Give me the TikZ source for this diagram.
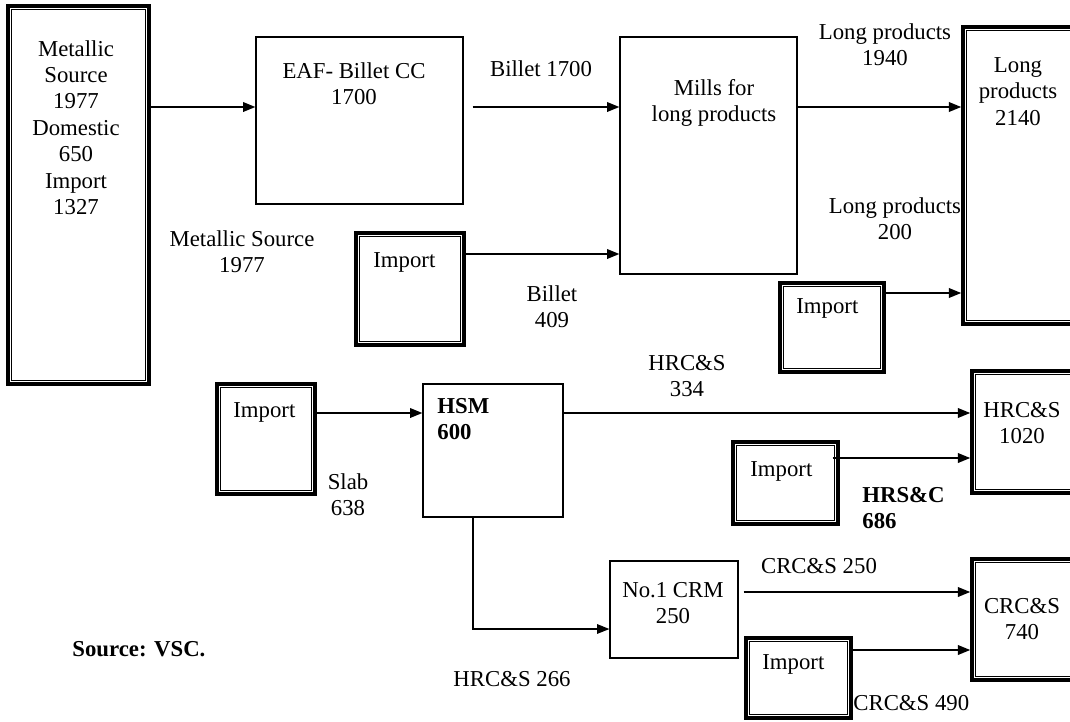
\documentclass[tikz,border=0pt]{standalone}
\usepackage{fontspec}
\setmainfont{Liberation Serif}
\usetikzlibrary{arrows.meta,fit}
\tikzset{
  dbox/.style={draw, line width=1.8pt, inner sep=0pt,
    path picture={\draw[line width=0.7pt]
      ([shift={(2pt,-2pt)}]path picture bounding box.north west) rectangle
      ([shift={(-2pt,2pt)}]path picture bounding box.south east);}},
  sbox/.style={draw, line width=0.6pt, inner sep=0pt},
  txt/.style={inner sep=0pt, align=center, anchor=north},
  ltxt/.style={inner sep=0pt, align=left, anchor=north west},
  arr/.style={line width=1pt, -{Triangle[length=6.5pt,width=5pt]}},
  conn/.style={line width=0.7pt},
}
\begin{document}
\begin{tikzpicture}[x=0.527pt, y=-0.527pt, font=\fontsize{12}{13.9}\selectfont]
\useasboundingbox (0,0) rectangle (1070,722);
\fill[white] (0,0) rectangle (1070,722);
\clip (0,0) rectangle (1070,722);

% boxes
\node[dbox, fit={(8,6) (149,384)}] (ms) {};
\node[sbox, fit={(256,37) (463,204)}] (eaf) {};
\node[sbox, fit={(620,37) (797,274)}] (mills) {};
\node[dbox, fit={(963,27) (1090,324)}] (lp) {};
\node[dbox, fit={(356,233) (464,345)}] (impB) {};
\node[dbox, fit={(780,283) (884,372)}] (impL) {};
\node[dbox, fit={(217,384) (315,494)}] (impS) {};
\node[sbox, fit={(423,384) (563,517)}] (hsm) {};
\node[dbox, fit={(972,371) (1090,493)}] (hrc) {};
\node[dbox, fit={(733,442) (838,524)}] (impH) {};
\node[sbox, fit={(610,561) (738,658)}] (crm) {};
\node[dbox, fit={(972,559) (1090,680)}] (crc) {};
\node[dbox, fit={(746,638) (851,718)}] (impC) {};

% box texts
\node[txt] (tms) at (76,40) {Metallic\\Source\\1977\\Domestic\\650\\Import\\1327};
\node[txt] (teaf) at (354,62) {EAF- Billet CC\\1700};
\node[txt] (tmills) at (714,79) {Mills for\\long products};
\node[txt] (tlp) at (1018,57) {Long\\products\\2140};
\node[ltxt] (timpB) at (373,252) {Import};
\node[ltxt] (timpL) at (796,298) {Import};
\node[ltxt] (timpS) at (233,402) {Import};
\node[ltxt, font=\fontsize{12}{13.9}\selectfont\bfseries] (thsm) at (437,398) {HSM\\600};
\node[txt] (thrc) at (1022,402) {HRC\&S\\1020};
\node[ltxt] (timpH) at (750,461) {Import};
\node[txt] (tcrm) at (673,582) {No.1 CRM\\250};
\node[txt] (tcrc) at (1022,598) {CRC\&S\\740};
\node[ltxt] (timpC) at (762,654) {Import};

% connector labels
\node[txt] (lb1700) at (541,60) {Billet 1700};
\node[txt] (llp1940) at (885,23) {Long products\\1940};
\node[txt] (llp200) at (895,197) {Long products\\200};
\node[txt] (lb409) at (552,285) {Billet\\409};
\node[txt] (lms) at (242,230) {Metallic Source\\1977};
\node[txt] (lslab) at (348,473) {Slab\\638};
\node[txt] (lhrc334) at (687,355) {HRC\&S\\334};
\node[ltxt, font=\fontsize{12}{13.9}\selectfont\bfseries] (lhrs686) at (862,487) {HRS\&C\\686};
\node[txt] (lcrc250) at (819,558) {CRC\&S 250};
\node[ltxt] (lcrc490) at (853,695) {CRC\&S 490};
\node[txt] (lhrc266) at (512,671) {HRC\&S 266};
\node[ltxt, font=\fontsize{12}{13.9}\selectfont\bfseries] (src) at (72,641) {Source: VSC.};

% connectors
\draw[arr] (ms.east |- 0,107) -- (eaf.west |- 0,107);
\draw[arr] ([shift={(9,0)}]eaf.east |- 0,107) -- (mills.west |- 0,107);
\draw[arr] (mills.east |- 0,107) -- (lp.west |- 0,107);
\draw[arr] (impB.east |- 0,254) -- (mills.west |- 0,254);
\draw[arr] (impL.east |- 0,293) -- (lp.west |- 0,293);
\draw[arr] (impS.east |- 0,413) -- (hsm.west |- 0,413);
\draw[arr] (hsm.east |- 0,413) -- (hrc.west |- 0,413);
\draw[arr] ([shift={(-7,0)}]impH.east |- 0,458) -- (hrc.west |- 0,458);
\draw[arr, conn] (hsm.south -| 473,0) |- (crm.west |- 0,629);
\draw[arr] ([shift={(5,0)}]crm.east |- 0,592) -- (crc.west |- 0,592);
\draw[arr] (impC.east |- 0,650) -- (crc.west |- 0,650);
\end{tikzpicture}
\end{document}
